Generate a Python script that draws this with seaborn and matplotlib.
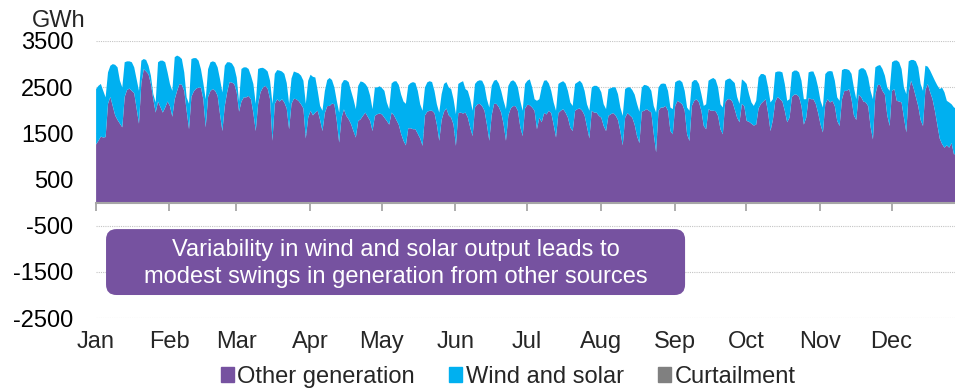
import numpy as np
import matplotlib
matplotlib.use("Agg")
import matplotlib.pyplot as plt
import seaborn as sns
from matplotlib.patches import Patch, FancyBboxPatch


###########################
# Daily values (GWh), one row = one week

# top of the stack (other generation + wind and solar)
total_generation = [
    2470, 2540, 2580, 2430, 2290, 2830, 2975,
    3010, 2995, 2940, 2650, 2505, 3050, 3070,
    3070, 3050, 2940, 2685, 2430, 3085, 3120,
    3100, 2975, 2760, 2360, 2180, 3050, 3085,
    3085, 3050, 2830, 2580, 2430, 3160, 3195,
    3170, 3120, 2830, 2290, 2150, 3120, 3140,
    3140, 3085, 2900, 2600, 2250, 2900, 3050,
    3070, 3050, 2940, 2685, 2395, 2975, 3050,
    3050, 3025, 2940, 2720, 2200, 2905, 2940,
    2940, 2905, 2760, 2580, 2150, 2905, 2925,
    2930, 2900, 2850, 2650, 2150, 2800, 2880,
    2870, 2850, 2800, 2600, 2150, 2700, 2850,
    2830, 2810, 2760, 2650, 2150, 2650, 2780,
    2735, 2720, 2430, 2105, 2000, 2430, 2665,
    2710, 2665, 2505, 2215, 1960, 2580, 2665,
    2660, 2620, 2430, 2250, 2035, 2540, 2635,
    2620, 2580, 2505, 2325, 2035, 2505, 2505,
    2530, 2490, 2430, 2180, 2035, 2590, 2635,
    2640, 2560, 2350, 2200, 2150, 2550, 2600,
    2620, 2600, 2430, 2140, 2000, 2505, 2615,
    2640, 2620, 2430, 2140, 1960, 2360, 2580,
    2620, 2505, 2470, 2250, 1925, 2580, 2615,
    2640, 2470, 2430, 2250, 2000, 2580, 2640,
    2660, 2650, 2540, 2250, 2070, 2540, 2650,
    2670, 2590, 2430, 2215, 2035, 2540, 2635,
    2660, 2615, 2505, 2215, 2000, 2580, 2650,
    2680, 2505, 2250, 2215, 2250, 2505, 2650,
    2660, 2590, 2430, 2180, 2000, 2580, 2615,
    2640, 2590, 2430, 2180, 2105, 2580, 2615,
    2650, 2590, 2430, 2140, 2000, 2505, 2540,
    2540, 2505, 2400, 2140, 2035, 2470, 2490,
    2510, 2505, 2360, 2070, 1890, 2470, 2505,
    2510, 2450, 2350, 2150, 1980, 2500, 2560,
    2550, 2520, 2430, 2105, 1960, 2505, 2580,
    2590, 2580, 2430, 2070, 2035, 2615, 2650,
    2660, 2615, 2430, 2070, 2000, 2615, 2665,
    2660, 2580, 2360, 2105, 2140, 2650, 2685,
    2710, 2670, 2505, 2140, 2070, 2650, 2685,
    2700, 2650, 2600, 2300, 2150, 2680, 2640,
    2580, 2360, 2180, 2105, 2215, 2720, 2795,
    2795, 2760, 2505, 2180, 2250, 2830, 2850,
    2850, 2830, 2580, 2215, 2250, 2830, 2870,
    2870, 2830, 2650, 2250, 2250, 2830, 2850,
    2850, 2720, 2505, 2215, 2070, 2795, 2850,
    2860, 2850, 2650, 2290, 2215, 2880, 2905,
    2900, 2880, 2800, 2500, 2250, 2880, 2920,
    2920, 2870, 2720, 2430, 2250, 2940, 2975,
    2990, 2905, 2760, 2505, 2430, 3050, 3085,
    3090, 3050, 2905, 2505, 2360, 3070, 3100,
    3100, 3070, 2940, 2580, 2430, 2975, 2955,
    2870, 2760, 2650, 2550, 2470, 2500, 2400,
    2215, 2180, 2140, 2070, 2050, 2100, 2150,
    2200,
]

other_generation = [
    1270, 1350, 1440, 1420, 1430, 2150, 2300,
    2100, 1900, 1800, 1720, 1640, 2300, 2450,
    2480, 2430, 2380, 2050, 1720, 2600, 2900,
    2850, 2790, 2580, 2250, 1960, 2200, 2080,
    1960, 2070, 2200, 2100, 1870, 2250, 2430,
    2580, 2560, 2430, 2000, 1600, 2300, 2420,
    2480, 2500, 2500, 2250, 1640, 2300, 2430,
    2470, 2430, 2325, 1925, 1560, 2100, 2400,
    2620, 2610, 2580, 2400, 1980, 2200, 2290,
    2290, 2320, 2250, 1950, 1560, 2150, 2400,
    2500, 2540, 2480, 2250, 1350, 2150, 2250,
    2200, 2250, 2180, 2050, 1600, 2150, 2260,
    2250, 2210, 2140, 2050, 1400, 1850, 2000,
    1900, 1960, 2000, 1800, 1560, 1950, 2100,
    2105, 2155, 2140, 1780, 1310, 1850, 2030,
    1890, 1815, 1710, 1560, 1420, 1780, 1815,
    1890, 1960, 1870, 1780, 1560, 1890, 1925,
    1940, 1920, 1850, 1780, 1700, 1960, 1900,
    1800, 1700, 1500, 1350, 1250, 1620, 1620,
    1600, 1600, 1500, 1400, 1240, 1900, 1980,
    2000, 2000, 1950, 1700, 1350, 1800, 1980,
    2050, 1900, 1850, 1700, 1240, 1950, 1960,
    1940, 1960, 1850, 1635, 1450, 2070, 2140,
    2150, 2100, 2000, 1700, 1350, 1900, 2150,
    2150, 2080, 1960, 1710, 1350, 1900, 2050,
    2100, 2100, 2000, 1650, 1450, 2050, 2130,
    2120, 2070, 2000, 1600, 1850, 1750, 1950,
    1920, 2000, 1950, 1700, 1420, 1950, 2000,
    2035, 1960, 1850, 1635, 1560, 2000, 2035,
    2050, 2000, 1900, 1650, 1400, 2000, 1960,
    1960, 1890, 1850, 1670, 1560, 1890, 1925,
    1950, 1900, 1800, 1550, 1250, 1850, 1950,
    1900, 1850, 1700, 1450, 1300, 1980, 2000,
    2035, 2000, 1960, 1500, 1100, 2000, 2070,
    2070, 2105, 2000, 1560, 1490, 2105, 2215,
    2180, 2140, 2000, 1490, 1345, 2105, 2215,
    2250, 2180, 2000, 1670, 1600, 2035, 2000,
    2000, 1990, 1890, 1600, 1490, 2180, 2250,
    2250, 2200, 2030, 1850, 1750, 2150, 2100,
    1780, 1760, 1720, 1680, 1700, 2050, 2150,
    2200, 2250, 1950, 1560, 1800, 2200, 2300,
    2250, 2200, 2000, 1750, 1850, 2300, 2350,
    2350, 2300, 2100, 1700, 1850, 2280, 2250,
    2250, 2150, 1950, 1700, 1530, 2150, 2250,
    2180, 2215, 2100, 1780, 1670, 2250, 2430,
    2430, 2470, 2250, 1900, 1800, 2350, 2300,
    2200, 2180, 2100, 1650, 1380, 2350, 2560,
    2560, 2430, 2350, 1900, 1670, 2430, 2470,
    2215, 2200, 2180, 1850, 1530, 2400, 2650,
    2500, 2300, 2100, 1800, 1670, 2450, 2580,
    2400, 2250, 2000, 1700, 1400, 1280, 1200,
    1250, 1200, 1300, 1050, 1100, 1150, 1200,
    1250,
]

# no curtailment visible in the chart
curtailment = [0] * len(other_generation)

months = ['Jan', 'Feb', 'Mar', 'Apr', 'May', 'Jun',
          'Jul', 'Aug', 'Sep', 'Oct', 'Nov', 'Dec']
month_start = [0, 31, 59, 90, 120, 151, 181, 212, 243, 273, 304, 334]
y_ticks = [-2500, -1500, -500, 500, 1500, 2500, 3500]

note = ("Variability in wind and solar output leads to\n"
        "modest swings in generation from other sources")

purple = '#7652A0'
cyan = '#00B0F0'
grey = '#808080'

days = np.arange(len(other_generation))
other = np.array(other_generation)
wind_solar = np.array(total_generation) - other
curt = np.array(curtailment)


################################
# Plot
sns.set_theme(style="white")
plt.rcParams['font.family'] = ['Liberation Sans', 'DejaVu Sans']

fig = plt.figure(figsize=(9.55, 3.9), dpi=100)
# plot runs a little past the right edge, like the cropped original
ax = fig.add_axes([0.1001, 0.1846, 0.9108, 0.7103])

ax.stackplot(days, other, wind_solar, colors=[purple, cyan], linewidth=0)
ax.fill_between(days, 0, -curt, color=grey, linewidth=0)

ax.set_xlim(0, 365)
ax.set_ylim(-2500, 3500)
ax.set_yticks(y_ticks)
ax.set_yticklabels([str(v) for v in y_ticks])
ax.tick_params(axis='y', length=0, pad=16, labelsize=17, colors='black')
ax.yaxis.grid(True, linestyle=(0, (1, 1)), color='#C4C4C4', linewidth=0.8)
ax.xaxis.grid(False)
ax.set_axisbelow(True)

for side in ['top', 'right', 'left']:
    ax.spines[side].set_visible(False)
ax.spines['bottom'].set_position(('data', 0))
ax.spines['bottom'].set_color('#A6A6A6')
ax.spines['bottom'].set_linewidth(1.5)
ax.set_xticks(month_start)
ax.tick_params(axis='x', direction='out', length=5.5, width=1.3,
               color='#A6A6A6', labelbottom=False, bottom=True)

# month names sit under the plot, ticks stay on the zero line
sec = ax.secondary_xaxis('bottom')
sec.set_xticks(month_start, labels=months)
sec.tick_params(length=0, pad=9.5, labelsize=17)
sec.spines['bottom'].set_visible(False)

fig.text(0.061, 0.9315, 'GWh', ha='center', va='baseline', fontsize=17)

# note box
box = FancyBboxPatch((0.012, 0.083), 0.6657, 0.238,
                     boxstyle='round,pad=0,rounding_size=0.012',
                     mutation_aspect=3.14, transform=ax.transAxes,
                     fc=purple, ec='none', zorder=5)
ax.add_patch(box)
ax.text(0.3449, 0.197, note, transform=ax.transAxes, ha='center', va='center',
        color='white', fontsize=17, linespacing=1.3, zorder=6)

handles = [Patch(color=purple, label='Other generation'),
           Patch(color=cyan, label='Wind and solar'),
           Patch(color=grey, label='Curtailment')]
fig.legend(handles=handles, loc='center', bbox_to_anchor=(0.532, 0.034),
           ncol=3, frameon=False, fontsize=17, handlelength=0.55,
           handleheight=0.55, handletextpad=0.15, columnspacing=1.45,
           borderpad=0, borderaxespad=0)

fig.savefig('out.png', dpi=100)
